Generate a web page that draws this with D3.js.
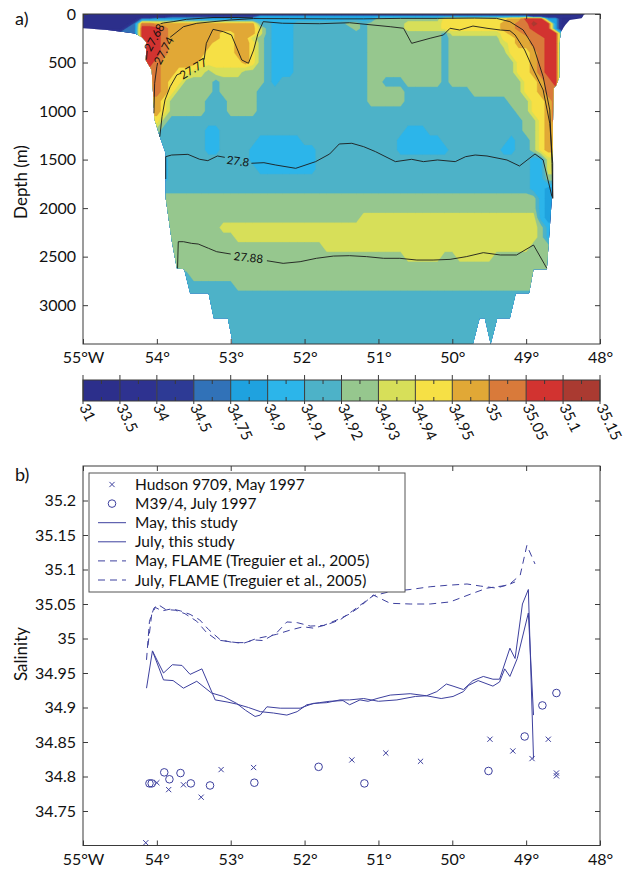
<!DOCTYPE html>
<html>
<head>
<meta charset="utf-8">
<script src="https://cdn.jsdelivr.net/npm/d3@7"></script>
<style>
  body { margin: 0; background: #fff; }
  svg text { font-family: Lato, "Open Sans", sans-serif; fill: #111; }
</style>
</head>
<body>
<svg id="fig" width="625" height="869"></svg>
<script>
// ---------------- shared axis values ----------------
const lonTicks = [55, 54, 53, 52, 51, 50, 49, 48];
const lonTickLabels = ["55°W", "54°", "53°", "52°", "51°", "50°", "49°", "48°"];
const depthTicks = [0, 500, 1000, 1500, 2000, 2500, 3000];
const salTicks = [34.75, 34.8, 34.85, 34.9, 34.95, 35, 35.05, 35.1, 35.15, 35.2];

// ---------------- panel a: salinity section ----------------
// salinity class boundaries (colour bar) and the colour of each class
const salinityLevels = [31, 33.5, 34, 34.5, 34.75, 34.9, 34.91, 34.92, 34.93, 34.94, 34.95, 35, 35.05, 35.1, 35.15];
const levelColors = ["#2c2f8b", "#2e3290", "#2d3a95", "#3172b8", "#1fa2df", "#2cb5ea", "#4db2c8",
                     "#96c78e", "#d7df59", "#f6e045", "#e1a836", "#d97a3a", "#d23330", "#aa3a31"];

// gridded section: columns every 0.1° from 55.0°W, rows at the depths below;
// each row lists "class:lastColumn" runs (class 0-13 in hex, index into salinityLevels)
const gridLon0 = 55.0, gridLonStep = 0.1, gridCols = 69;
const gridDepths = [0, 25, 50, 100, 150, 200, 250, 300, 400, 500, 600, 700, 800, 900, 1000,
  1100, 1200, 1300, 1400, 1500, 1600, 1700, 1800, 1900, 2000, 2100, 2200, 2300, 2400, 2500,
  2600, 2700, 2800, 2900, 3000, 3100, 3200, 3300, 3400];
const gridRows = [
  "0:68",
  "0:11 2:23 4:60 1:68",
  "0:7 3:9 4:23 5:39 7:48 9:57 a:59 c:62 4:64 0:68",
  "0:6 3:7 b:9 a:23 6:25 5:28 6:35 7:37 6:38 7:43 8:48 9:56 a:58 b:60 d:61 c:63 4:64 0:68",
  "0:5 3:7 c:10 b:11 a:23 8:24 6:25 5:28 6:36 7:37 6:38 7:43 8:48 9:56 a:58 b:60 c:63 4:64 0:68",
  "3:7 c:10 b:11 a:18 9:20 a:23 8:24 6:25 5:28 6:38 7:48 6:49 8:56 9:57 a:59 b:61 c:64 4:68",
  "3:7 c:10 b:11 a:18 9:20 a:22 8:23 7:24 6:25 5:28 6:38 7:48 6:49 7:56 9:58 a:60 b:62 c:64 4:68",
  "c:10 b:11 a:17 9:20 a:22 9:23 7:24 6:25 5:28 6:38 7:48 6:49 7:56 8:57 9:58 a:60 b:62 c:64 4:68",
  "c:10 b:11 a:16 9:20 a:22 9:23 7:24 6:25 5:28 6:38 7:48 6:49 7:57 9:60 a:61 b:62 c:64 4:68",
  "c:9 b:10 a:15 9:21 a:22 9:23 7:24 6:25 5:28 6:38 7:48 6:49 7:58 9:60 a:61 b:62 c:64 4:68",
  "b:10 a:12 9:14 8:16 7:17 8:21 7:24 6:25 5:28 6:38 7:48 6:49 7:58 9:60 a:61 b:62 c:64 4:68",
  "b:10 a:11 9:13 7:17 6:18 7:24 6:25 5:26 6:38 7:40 6:43 7:48 6:49 7:59 9:61 a:62 b:63 c:64 4:68",
  "b:10 a:11 9:12 7:17 6:18 7:23 6:38 7:43 6:52 7:59 9:61 a:62 b:68",
  "a:10 9:11 7:16 6:19 7:23 6:38 7:43 6:57 7:60 9:62 a:63 b:68",
  "a:10 9:11 7:16 6:19 7:23 6:58 7:60 9:62 a:63 b:68",
  "9:10 7:11 6:59 7:61 9:62 a:63 b:68",
  "7:10 6:16 5:18 6:43 5:46 6:59 7:61 9:62 a:68",
  "6:16 5:18 6:23 5:29 6:42 5:48 6:57 5:58 6:60 7:61 9:62 a:68",
  "6:16 5:18 6:22 5:31 6:42 5:49 6:56 5:58 6:60 7:61 9:62 a:68",
  "5:11 6:22 5:31 6:60 5:62 8:68",
  "5:11 6:23 5:31 6:60 5:62 8:68",
  "5:11 6:60 5:62 7:68",
  "6:60 5:62 4:68",
  "7:61 5:62 4:68",
  "7:61 5:62 4:68",
  "7:37 8:61 5:62 4:68",
  "7:18 8:61 7:62 5:68",
  "7:20 8:61 7:62 5:68",
  "7:32 8:60 7:68",
  "7:43 8:48 7:50 8:55 7:68",
  "7:68",
  "6:14 7:68",
  "6:20 7:68",
  "6:68", "6:68", "6:68", "6:68", "6:68", "6:68"
];

// water column outline (lon °W, depth m): surface, eastern slope, bottom, western slope
const oceanOutline = [[55.0,0],[48.2,0],[48.22,8],[48.25,45],[48.41,62],[48.47,113],[48.53,182],
  [48.55,302],[48.55,646],[48.59,731],[48.63,766],[48.65,1880],[48.72,2631],[48.90,2631],
  [48.96,2878],[49.14,2878],[49.22,3135],[49.39,3135],[49.48,3400],[49.56,3135],[49.63,3135],
  [49.72,3400],[52.97,3400],[53.04,3135],[53.23,3135],[53.30,2878],[53.55,2878],[53.63,2631],
  [53.73,2620],[53.80,2330],[53.88,1900],[53.88,1436],[53.96,1265],[54.03,1090],[54.07,577],
  [54.15,474],[54.14,290],[54.20,240],[54.30,200],[54.45,185],[54.70,162],[55.0,148]];

// potential density contours (lon °W, depth m), broken where the label sits
const isopycnals = [
  { label: "27.68", segments: [
      [[54.14,470],[54.13,380]],
      [[53.95,100],[53.91,92],[53.78,79],[53.60,55],[53.24,36],[52.90,36],[52.70,40]] ] },
  { label: "27.74", segments: [
      [[54.04,1023],[54.03,714],[54.00,543],[53.99,505]],
      [[53.82,240],[53.64,131],[53.46,96],[53.01,62],[52.69,47],[52.2,48],[51.7,50],[51.2,50],
       [50.7,45],[50.2,45],[49.7,42],[49.4,45],[49.22,79],[49.04,165],[48.90,337],[48.77,646],
       [48.68,989],[48.65,1540],[48.64,1900]] ] },
  { label: "27.77", segments: [
      [[53.96,1264],[53.93,1058],[53.89,886],[53.82,749],[53.73,628],[53.68,612]],
      [[53.36,470],[53.33,302],[53.24,158],[53.10,182],[52.99,216],[52.85,474],[52.76,508],
       [52.69,371],[52.63,199],[52.56,79],[52.3,95],[51.8,100],[51.39,90],[50.84,131],[50.66,147],
       [50.55,302],[50.30,250],[50.12,216],[50.03,147],[49.90,165],[49.72,124],[49.53,147],
       [49.35,165],[49.22,172],[49.15,216],[49.02,371],[48.90,577],[48.77,783],[48.68,1126],
       [48.64,1538],[48.64,1900]] ] },
  { label: "27.8", segments: [
      [[53.88,1700],[53.88,1470],[53.80,1453],[53.58,1446],[53.42,1497],[53.31,1511],[53.18,1463],[53.08,1477]],
      [[52.72,1538],[52.55,1532],[52.39,1556],[52.12,1590],[51.85,1521],[51.66,1442],[51.53,1339],
       [51.36,1332],[51.20,1367],[51.04,1418],[50.77,1521],[50.55,1497],[50.39,1521],[50.20,1504],
       [49.96,1521],[49.82,1470],[49.69,1453],[49.53,1463],[49.26,1504],[49.09,1566],[48.88,1442],
       [48.77,1504],[48.65,1882]] ] },
  { label: "27.88", segments: [
      [[53.72,2620],[53.71,2346],[53.64,2346],[53.53,2363],[53.44,2370],[53.30,2414],[53.19,2449],[53.00,2473]],
      [[52.51,2542],[52.29,2569],[52.06,2552],[51.84,2517],[51.61,2494],[51.39,2490],[51.16,2500],
       [50.93,2517],[50.71,2517],[50.48,2535],[50.26,2535],[50.03,2528],[49.81,2500],[49.58,2459],
       [49.35,2483],[49.13,2483],[48.90,2380],[48.72,2620]] ] }
];
// where each contour label is written: [lon, depth, rotation in degrees]
const isopycnalLabelPlaces = [[54.04,240,-61],[53.91,375,-62],[53.51,560,-31],[52.90,1512,8],[52.76,2505,6]];

// ---------------- panel b: salinity along the section ----------------
const hudsonLon = [54.15, 54.00, 53.84, 53.64, 53.40, 53.13, 52.69, 51.36, 50.90, 50.43, 49.49, 49.18, 48.92, 48.70, 48.59, 48.59];
const hudsonSal = [34.704, 34.791, 34.781, 34.788, 34.770, 34.810, 34.813, 34.824, 34.834, 34.822, 34.854, 34.837, 34.826, 34.854, 34.805, 34.801];
const meteorLon = [54.10, 54.07, 53.90, 53.83, 53.68, 53.54, 53.28, 52.68, 51.81, 51.19, 49.51, 49.02, 48.78, 48.59];
const meteorSal = [34.790, 34.790, 34.806, 34.796, 34.805, 34.790, 34.787, 34.791, 34.814, 34.790, 34.808, 34.858, 34.903, 34.921];

const mayStudyLon = [54.14, 54.06, 53.91, 53.79, 53.66, 53.55, 53.39, 53.21, 53.05, 52.92, 52.76, 52.60, 52.42, 52.24, 52.10, 51.97,
  51.80, 51.66, 51.48, 51.39, 51.25, 51.14, 51.02, 50.84, 50.57, 50.35, 50.21, 50.08, 49.99, 49.85, 49.72, 49.58, 49.45, 49.36,
  49.22, 49.15, 49.05, 48.97, 48.90];
const mayStudySal = [34.928, 34.982, 34.950, 34.962, 34.961, 34.948, 34.956, 34.911, 34.908, 34.905, 34.900, 34.894, 34.892, 34.889, 34.894, 34.904,
  34.907, 34.909, 34.910, 34.904, 34.911, 34.909, 34.913, 34.918, 34.920, 34.917, 34.923, 34.934, 34.931, 34.926, 34.939, 34.945, 34.941, 34.941,
  34.986, 34.971, 35.050, 35.071, 34.826];
const julyStudyLon = [54.06, 53.91, 53.78, 53.64, 53.46, 53.26, 53.10, 52.92, 52.80, 52.67, 52.60, 52.51, 52.33, 52.06, 51.88, 51.70,
  51.52, 51.39, 51.20, 51.00, 50.75, 50.50, 50.35, 50.15, 49.99, 49.85, 49.78, 49.65, 49.45, 49.36, 49.29, 49.22, 49.12, 48.97, 48.90];
const julyStudySal = [34.982, 34.940, 34.939, 34.928, 34.938, 34.921, 34.916, 34.906, 34.896, 34.887, 34.889, 34.901, 34.899, 34.899, 34.906, 34.907,
  34.911, 34.911, 34.913, 34.909, 34.911, 34.916, 34.917, 34.913, 34.916, 34.923, 34.932, 34.939, 34.931, 34.937, 34.956, 34.945, 34.971, 35.037, 34.889];

const mayFlameLon = [54.14, 54.10, 54.04, 53.98, 53.88, 53.75, 53.62, 53.46, 53.33, 53.19, 52.99, 52.83, 52.69, 52.56, 52.38, 52.24,
  52.10, 51.92, 51.74, 51.56, 51.40, 51.25, 51.07, 50.84, 50.57, 50.30, 50.03, 49.76, 49.53, 49.26, 49.15];
const mayFlameSal = [34.969, 35.025, 35.044, 35.049, 35.042, 35.041, 35.036, 35.025, 35.009, 34.998, 34.995, 34.993, 34.998, 34.997, 35.008, 35.024,
  35.023, 35.018, 35.019, 35.027, 35.035, 35.046, 35.063, 35.051, 35.050, 35.050, 35.053, 35.064, 35.073, 35.077, 35.082];
const julyFlameLon = [54.12, 54.07, 54.02, 53.93, 53.80, 53.68, 53.55, 53.42, 53.30, 53.14, 52.96, 52.80, 52.65, 52.51, 52.38, 52.20,
  52.02, 51.88, 51.70, 51.52, 51.35, 51.20, 51.07, 50.84, 50.57, 50.30, 50.08, 49.80, 49.62, 49.40, 49.22, 49.08, 48.99, 48.88];
const julyFlameSal = [34.990, 35.035, 35.045, 35.040, 35.043, 35.040, 35.035, 35.027, 35.013, 34.998, 34.994, 34.994, 35.000, 35.003, 35.006, 35.012,
  35.017, 35.015, 35.020, 35.027, 35.040, 35.052, 35.062, 35.068, 35.071, 35.075, 35.077, 35.079, 35.076, 35.073, 35.079, 35.092, 35.135, 35.108];

const legendEntries = [
  { text: "Hudson 9709, May 1997", kind: "cross" },
  { text: "M39/4, July 1997", kind: "circle" },
  { text: "May, this study", kind: "solid" },
  { text: "July, this study", kind: "solid" },
  { text: "May, FLAME (Treguier et al., 2005)", kind: "dashed" },
  { text: "July, FLAME (Treguier et al., 2005)", kind: "dashed" }
];

// ---------------- drawing ----------------
const svg = d3.select("#fig");
const axisColor = "#3a3a3a";
const dataBlue = "#3d409e";
const tickFont = 16;

const xA = d3.scaleLinear().domain([55, 48]).range([83, 600]);
const yA = d3.scaleLinear().domain([0, 3400]).range([14, 344]);
const yB = d3.scaleLinear().domain([34.7, 35.25]).range([845.5, 466]);

// --- section field: class grid -> filled contours ---
const nx = gridCols, ny = gridDepths.length;
const values = new Array(nx * ny).fill(0);
gridRows.forEach((row, j) => {
  let start = 0;
  row.trim().split(/\s+/).forEach(tok => {
    const [c, e] = tok.split(":");
    const cls = parseInt(c, 16), end = +e;
    for (let i = start; i <= end; i++) values[j * nx + i] = cls;
    start = end + 1;
  });
});
const rowDepth = d3.scaleLinear().domain(d3.range(ny)).range(gridDepths);
const gridToPx = d3.geoTransform({
  point(gx, gy) {
    this.stream.point(xA(gridLon0 - (gx - 0.5) * gridLonStep), yA(rowDepth(gy - 0.5)));
  }
});
const gridPath = d3.geoPath(gridToPx);
const bands = d3.contours().size([nx, ny])
  .thresholds(d3.range(levelColors.length).map(k => k - 0.5))(values);

const defs = svg.append("defs");
const oceanLine = d3.line().x(d => xA(d[0])).y(d => yA(d[1]));
defs.append("clipPath").attr("id", "ocean")
  .append("path").attr("d", oceanLine(oceanOutline) + "Z");

const field = svg.append("g").attr("clip-path", "url(#ocean)");
field.selectAll("path.band").data(bands).join("path")
  .attr("class", "band")
  .attr("d", gridPath)
  .attr("fill", (d, k) => levelColors[k])
  .attr("stroke", (d, k) => levelColors[k])
  .attr("stroke-width", 0.3);

// --- isopycnals ---
const gIso = svg.append("g");
isopycnals.forEach((iso, k) => {
  iso.segments.forEach(seg => {
    gIso.append("path").attr("d", oceanLine(seg))
      .attr("fill", "none").attr("stroke", "#1b1b1b").attr("stroke-width", 0.9);
  });
  const [lon, dep, ang] = isopycnalLabelPlaces[k];
  gIso.append("text")
    .attr("transform", `translate(${xA(lon)},${yA(dep)}) rotate(${ang})`)
    .attr("text-anchor", "middle").attr("dominant-baseline", "central")
    .style("font-size", "11.5px").text(iso.label);
});

// --- axes helper ---
function boxAxes(g, x, y, top, bottom, yVals, yFmt) {
  const left = x.range()[0], right = x.range()[1];
  const styleAxis = sel => {
    sel.select(".domain").remove();
    sel.selectAll("line").attr("stroke", axisColor);
    sel.selectAll("text").style("font-size", tickFont + "px").style("font-family", "Lato, sans-serif").attr("fill", "#111");
  };
  g.append("g").attr("transform", `translate(0,${bottom})`)
    .call(d3.axisBottom(x).tickValues(lonTicks).tickFormat((d, i) => lonTickLabels[i]).tickSize(-5).tickPadding(8))
    .call(styleAxis);
  g.append("g").attr("transform", `translate(0,${top})`)
    .call(d3.axisTop(x).tickValues(lonTicks).tickFormat("").tickSize(-5))
    .call(styleAxis);
  g.append("g").attr("transform", `translate(${left},0)`)
    .call(d3.axisLeft(y).tickValues(yVals).tickFormat(yFmt).tickSize(-5).tickPadding(7))
    .call(styleAxis);
  g.append("g").attr("transform", `translate(${right},0)`)
    .call(d3.axisRight(y).tickValues(yVals).tickFormat("").tickSize(-5))
    .call(styleAxis);
  g.append("rect").attr("x", left).attr("y", top).attr("width", right - left).attr("height", bottom - top)
    .attr("fill", "none").attr("stroke", axisColor).attr("stroke-width", 1);
}

const gAxA = svg.append("g");
boxAxes(gAxA, xA, yA, 14, 344, depthTicks, d => String(d));
svg.append("text").attr("transform", "translate(27,182) rotate(-90)").attr("text-anchor", "middle")
  .style("font-size", "17px").text("Depth (m)");
svg.append("text").attr("x", 15).attr("y", 25).style("font-size", "18px").text("a)");

// --- colour bar ---
const cb = d3.scaleLinear().domain([0, levelColors.length]).range([83, 600]);
const cbTop = 380, cbBot = 401;
const gCb = svg.append("g");
gCb.selectAll("rect.seg").data(levelColors).join("rect").attr("class", "seg")
  .attr("x", (d, k) => cb(k)).attr("y", cbTop)
  .attr("width", (d, k) => cb(k + 1) - cb(k)).attr("height", cbBot - cbTop)
  .attr("fill", d => d);
gCb.selectAll("g.minor").data(d3.range(levelColors.length)).join("g").attr("class", "minor").each(function (k) {
  const xm = (cb(k) + cb(k + 1)) / 2;
  d3.select(this).append("line").attr("x1", xm).attr("x2", xm).attr("y1", cbTop).attr("y2", cbTop + 4).attr("stroke", axisColor);
  d3.select(this).append("line").attr("x1", xm).attr("x2", xm).attr("y1", cbBot - 4).attr("y2", cbBot).attr("stroke", axisColor);
});
gCb.selectAll("line.major").data(salinityLevels).join("line").attr("class", "major")
  .attr("x1", (d, k) => cb(k)).attr("x2", (d, k) => cb(k))
  .attr("y1", cbTop - 5).attr("y2", cbBot + 3).attr("stroke", axisColor);
gCb.append("rect").attr("x", cb(0)).attr("y", cbTop).attr("width", cb(levelColors.length) - cb(0)).attr("height", cbBot - cbTop)
  .attr("fill", "none").attr("stroke", axisColor);
gCb.selectAll("text").data(salinityLevels).join("text")
  .attr("transform", (d, k) => `translate(${cb(k) - 4},${cbBot + 6}) rotate(64)`)
  .style("font-size", "15px").text(d => String(d));

// --- panel b ---
const gB = svg.append("g");
const lineB = d3.line().x(d => xA(d[0])).y(d => yB(d[1]));
const zip = (a, b) => a.map((v, i) => [v, b[i]]);
[[mayFlameLon, mayFlameSal], [julyFlameLon, julyFlameSal]].forEach(([lo, sa]) => {
  gB.append("path").attr("d", lineB(zip(lo, sa))).attr("fill", "none")
    .attr("stroke", dataBlue).attr("stroke-width", 1).attr("stroke-dasharray", "7,5");
});
[[mayStudyLon, mayStudySal], [julyStudyLon, julyStudySal]].forEach(([lo, sa]) => {
  gB.append("path").attr("d", lineB(zip(lo, sa))).attr("fill", "none")
    .attr("stroke", dataBlue).attr("stroke-width", 1);
});
const crossPath = s => `M${-s},${-s}L${s},${s}M${-s},${s}L${s},${-s}`;
gB.selectAll("path.cross").data(zip(hudsonLon, hudsonSal)).join("path").attr("class", "cross")
  .attr("transform", d => `translate(${xA(d[0])},${yB(d[1])})`)
  .attr("d", crossPath(2.6)).attr("stroke", dataBlue).attr("stroke-width", 1).attr("fill", "none");
gB.selectAll("circle.obs").data(zip(meteorLon, meteorSal)).join("circle").attr("class", "obs")
  .attr("cx", d => xA(d[0])).attr("cy", d => yB(d[1])).attr("r", 3.8)
  .attr("fill", "none").attr("stroke", dataBlue).attr("stroke-width", 1);

boxAxes(gB, xA, yB, 466, 845.5, salTicks, d => String(d));
svg.append("text").attr("transform", "translate(27,654) rotate(-90)").attr("text-anchor", "middle")
  .style("font-size", "17px").text("Salinity");
svg.append("text").attr("x", 15).attr("y", 481).style("font-size", "18px").text("b)");

// legend
const gL = svg.append("g");
gL.append("rect").attr("x", 89).attr("y", 473).attr("width", 316).attr("height", 119)
  .attr("fill", "#fff").attr("stroke", "#555").attr("stroke-width", 1);
legendEntries.forEach((e, i) => {
  const cy = 484.5 + i * 19.1;
  if (e.kind === "cross") {
    gL.append("path").attr("transform", `translate(112,${cy})`).attr("d", crossPath(2.6))
      .attr("stroke", dataBlue).attr("fill", "none");
  } else if (e.kind === "circle") {
    gL.append("circle").attr("cx", 112).attr("cy", cy).attr("r", 3.8).attr("stroke", dataBlue).attr("fill", "none");
  } else {
    gL.append("line").attr("x1", 98).attr("x2", 126).attr("y1", cy).attr("y2", cy)
      .attr("stroke", dataBlue).attr("stroke-width", 1)
      .attr("stroke-dasharray", e.kind === "dashed" ? "7,5" : null);
  }
  gL.append("text").attr("x", 135).attr("y", cy + 5.5).style("font-size", "15.5px").text(e.text);
});
</script>
</body>
</html>
